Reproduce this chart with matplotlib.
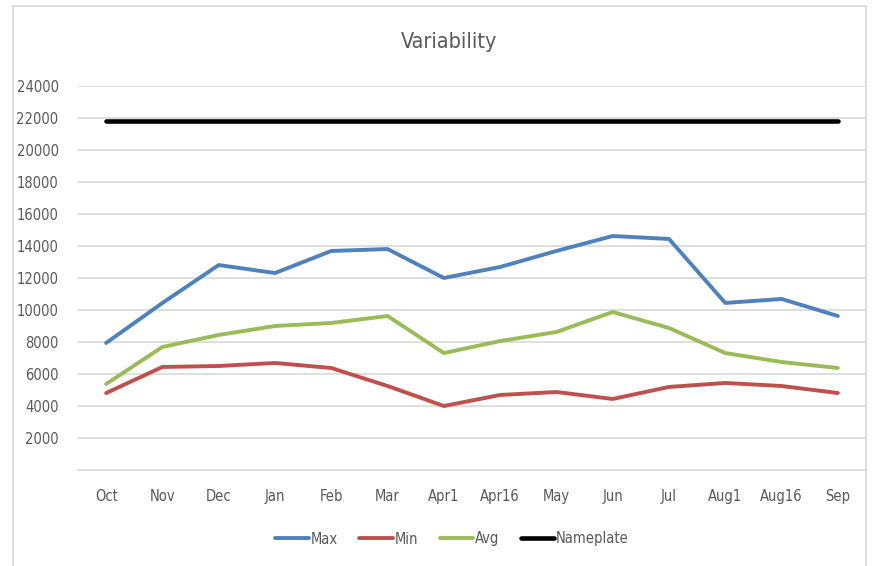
import matplotlib.pyplot as plt
from matplotlib.patches import Rectangle

# данные с графика
months = ['Oct', 'Nov', 'Dec', 'Jan', 'Feb', 'Mar', 'Apr1', 'Apr16', 'May', 'Jun', 'Jul', 'Aug1', 'Aug16', 'Sep']
max_vals = [7940, 10440, 12810, 12310, 13690, 13810, 12000, 12690, 13690, 14625, 14440, 10440, 10690, 9625]
min_vals = [4810, 6440, 6500, 6690, 6375, 5250, 4000, 4690, 4875, 4440, 5190, 5440, 5250, 4810]
avg_vals = [5375, 7690, 8440, 9000, 9190, 9625, 7310, 8060, 8625, 9875, 8875, 7310, 6750, 6375]
nameplate = [21800] * len(months)
yticks = [2000, 4000, 6000, 8000, 10000, 12000, 14000, 16000, 18000, 20000, 22000, 24000]

plt.rcParams['font.family'] = ['DejaVu Sans']
plt.rcParams['font.stretch'] = 'condensed'
txt = '#595959'

fig = plt.figure(figsize=(8.75, 5.66), dpi=100)
fig.patches.append(Rectangle((13 / 875, -0.1), (866 - 13) / 875, 1.1 - 6 / 566,
                             transform=fig.transFigure, fill=False,
                             edgecolor='#d9d9d9', linewidth=1.2))
ax = fig.add_axes([78 / 875, 96 / 566, 788 / 875, 384 / 566])

x = range(len(months))
ax.plot(x, max_vals, color='#4f81bd', lw=2.8, label='Max', solid_capstyle='round')
ax.plot(x, min_vals, color='#c0504d', lw=2.8, label='Min', solid_capstyle='round')
ax.plot(x, avg_vals, color='#9bbb59', lw=2.8, label='Avg', solid_capstyle='round')
ax.plot(x, nameplate, color='black', lw=3.3, label='Nameplate', solid_capstyle='round')

ax.set_xlim(-0.5, len(months) - 0.5)
ax.set_ylim(0, 24000)
ax.set_xticks(list(x))
ax.set_xticklabels(months)
ax.set_yticks(yticks)
ax.set_yticklabels([str(v) for v in yticks])
ax.tick_params(length=0, labelsize=10.5, colors=txt, pad=14)
ax.tick_params(axis='x', pad=14)
ax.grid(axis='y', color='#d9d9d9', lw=1.2)
ax.set_axisbelow(True)
for s in ['top', 'left', 'right']:
    ax.spines[s].set_visible(False)
ax.spines['bottom'].set_color('#d9d9d9')
ax.spines['bottom'].set_linewidth(1.2)

fig.text(449 / 875, 1 - 42 / 566, 'Variability', ha='center', va='center', fontsize=15.5, color=txt)
fig.legend(loc='center', bbox_to_anchor=(452 / 875, 1 - 539 / 566), ncol=4, frameon=False,
           fontsize=10.5, labelcolor=txt, handlelength=2.3, handletextpad=0.1, columnspacing=1.5)

plt.savefig('out.png', dpi=100)
